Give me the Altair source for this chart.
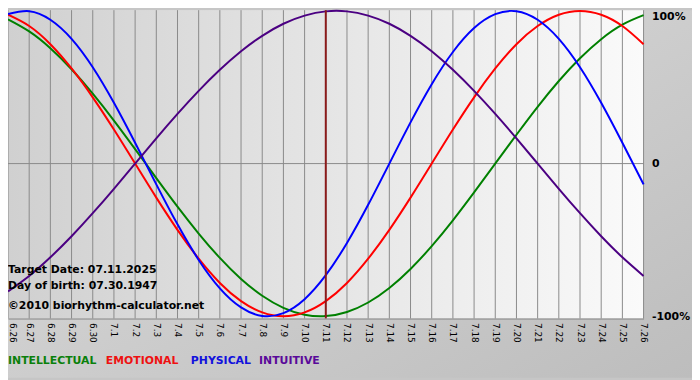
import altair as alt
import pandas as pd

# ---- data ----
dates = ["6.26", "6.27", "6.28", "6.29", "6.30", "7.1", "7.2", "7.3", "7.4", "7.5",
         "7.6", "7.7", "7.8", "7.9", "7.10", "7.11", "7.12", "7.13", "7.14", "7.15",
         "7.16", "7.17", "7.18", "7.19", "7.20", "7.21", "7.22", "7.23", "7.24", "7.25",
         "7.26"]

intellectual = [0.945, 0.866, 0.756, 0.618, 0.458, 0.282, 0.095, -0.095, -0.282, -0.458,
                -0.618, -0.756, -0.866, -0.945, -0.990, -0.999, -0.972, -0.910, -0.815, -0.690,
                -0.541, -0.372, -0.189, 0.000, 0.189, 0.372, 0.541, 0.690, 0.815, 0.910, 0.972]
emotional = [0.975, 0.901, 0.782, 0.623, 0.434, 0.223, 0.000, -0.223, -0.434, -0.623,
             -0.782, -0.901, -0.975, -1.000, -0.975, -0.901, -0.782, -0.623, -0.434, -0.223,
             0.000, 0.223, 0.434, 0.623, 0.782, 0.901, 0.975, 1.000, 0.975, 0.901, 0.782]
physical = [0.979, 0.998, 0.942, 0.817, 0.631, 0.398, 0.136, -0.136, -0.398, -0.631,
            -0.817, -0.942, -0.998, -0.979, -0.888, -0.731, -0.520, -0.270, 0.000, 0.270,
            0.520, 0.731, 0.888, 0.979, 0.998, 0.942, 0.817, 0.631, 0.398, 0.136, -0.136]
intuitive = [-0.837, -0.736, -0.614, -0.476, -0.325, -0.165, 0.000, 0.165, 0.325, 0.476,
             0.614, 0.736, 0.837, 0.916, 0.969, 0.997, 0.997, 0.969, 0.916, 0.837,
             0.736, 0.614, 0.476, 0.325, 0.165, 0.000, -0.165, -0.325, -0.476, -0.614, -0.736]

series_names = ["INTELLECTUAL", "EMOTIONAL", "PHYSICAL", "INTUITIVE"]
series_colors = ["#008000", "#ff0000", "#0000ff", "#4b0082"]
legend_colors = ["#0a800a", "#ee1111", "#1111dd", "#5a0a9a"]
target_date = "7.11"
info_lines = ["Target Date: 07.11.2025", "Day of birth: 07.30.1947",
              "\u00a92010 biorhythm-calculator.net"]
y_ticks = [1, 0, -1]
y_tick_labels = ["100%", "0", "-100%"]

# ---- layout ----
W, H = 643, 312
PAD_R, PAD_B = 49, 60
FONT = "DejaVu Sans"

rows = []
for name, vals in zip(series_names, [intellectual, emotional, physical, intuitive]):
    for d, v in zip(dates, vals):
        rows.append({"date": d, "value": v, "series": name})
df = pd.DataFrame(rows)

xscale = alt.Scale(type="point", domain=dates, padding=0)
yscale = alt.Scale(domain=[-1.015, 1.005], nice=False, zero=False)

xaxis = alt.Axis(orient="bottom", labelAngle=90, labelFontSize=9, labelFont=FONT,
                 labelColor="black", ticks=False, grid=False, domainColor="#888888",
                 domainWidth=1, title=None, labelPadding=4, zindex=1,
                 labelOffset={"condition": {"test": f"datum.value == '{dates[0]}'",
                                            "value": 5},
                              "value": 0})
label_expr = ""
for v, lab in zip(y_ticks, y_tick_labels):
    label_expr += f"datum.value == {v} ? '{lab}' : "
label_expr += "''"
yaxis = alt.Axis(orient="right", values=y_ticks, labelExpr=label_expr, ticks=False,
                 domain=False, grid=False, labelFontWeight="bold", labelFontSize=11,
                 labelFont=FONT, labelColor="black", labelPadding=8, title=None,
                 labelBaseline={"condition": {"test": f"datum.value == {y_ticks[0]}",
                                              "value": "top"},
                                "value": "middle"},
                 zindex=1)

one = alt.Data(values=[{"a": 1}])

outer_bg = alt.Chart(one).mark_rect(color={
    "gradient": "linear", "x1": 0, "x2": 1, "y1": 0, "y2": 1,
    "stops": [{"offset": 0, "color": "#dedede"}, {"offset": 1, "color": "#bdbdbd"}]
}).encode(x=alt.value(0), x2=alt.value(W + PAD_R), y=alt.value(0), y2=alt.value(H + PAD_B))

plot_bg = alt.Chart(one).mark_rect(color={
    "gradient": "linear", "x1": 0, "x2": 1, "y1": 0, "y2": 0,
    "stops": [{"offset": 0, "color": "#d0d0d0"}, {"offset": 1, "color": "#fafafa"}]
}).encode(x=alt.value(0), x2=alt.value(W), y=alt.value(0), y2=alt.value(H))

grid = alt.Chart(pd.DataFrame({"date": dates})).mark_rule(
    color="#8a8a8a", strokeWidth=1
).encode(x=alt.X("date:O", sort=dates, scale=xscale, axis=xaxis))

zero = alt.Chart(pd.DataFrame({"v": [0]})).mark_rule(
    color="#8a8a8a", strokeWidth=1
).encode(y=alt.Y("v:Q", scale=yscale, axis=yaxis))

lines = alt.Chart(df).mark_line(strokeWidth=2, interpolate="natural").encode(
    x=alt.X("date:O", sort=dates, scale=xscale, axis=xaxis),
    y=alt.Y("value:Q", scale=yscale, axis=yaxis),
    color=alt.Color("series:N", scale=alt.Scale(domain=series_names, range=series_colors),
                    legend=None),
)

target = alt.Chart(pd.DataFrame({"date": [target_date]})).mark_rule(
    color="#8b1a1a", strokeWidth=2
).encode(x=alt.X("date:O", sort=dates, scale=xscale, axis=xaxis))

layers = [outer_bg, plot_bg, grid, zero, lines, target]

info_y = [263, 279, 299]
for txt, yy in zip(info_lines, info_y):
    layers.append(alt.Chart(one).mark_text(
        align="left", baseline="middle", font=FONT, fontSize=11, fontWeight="bold",
        color="black"
    ).encode(x=alt.value(0), y=alt.value(yy), text=alt.value(txt)))

legend_x = [0, 99, 185, 254]
for name, col, xx in zip(series_names, legend_colors, legend_x):
    layers.append(alt.Chart(one).mark_text(
        align="left", baseline="middle", font=FONT, fontSize=11, fontWeight="bold",
        color=col
    ).encode(x=alt.value(xx), y=alt.value(H + 43), text=alt.value(name)))

chart = alt.layer(*layers).properties(
    width=W, height=H,
    padding={"left": 0, "top": 0, "right": PAD_R, "bottom": PAD_B},
    autosize=alt.AutoSizeParams(type="none"),
    background="#c6c6c6",
).configure_view(stroke=None)

chart.save("out.html", embed_options={"renderer": "svg", "actions": False})
